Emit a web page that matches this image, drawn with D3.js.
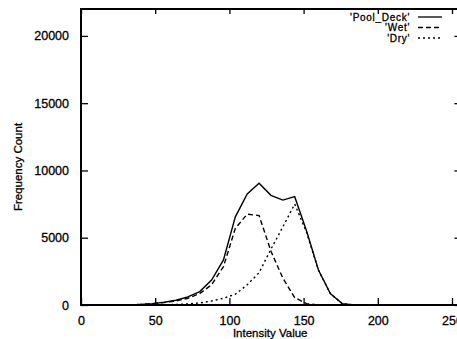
<!DOCTYPE html>
<html>
<head>
<meta charset="utf-8">
<script src="https://cdn.jsdelivr.net/npm/d3@7"></script>
<style>
  body { margin: 0; background: #fff; }
  svg { display: block; font-family: "Liberation Sans", Arial, sans-serif; }
  svg text { fill: #000; stroke: #000; stroke-width: 0.3px; }
</style>
</head>
<body>
<svg width="457" height="339"></svg>
<script>
    // histogram bins (intensity) and counts for each series
    const intensity = [0, 8, 16, 24, 32, 40, 48, 56, 64, 72, 80, 88, 96, 104, 112, 120, 128, 136, 144, 152, 160, 168, 176, 184, 192, 200, 208, 216, 224, 232, 240, 248, 255];
    const poolDeck  = [0, 0, 0, 5, 15, 40, 100, 200, 350, 600, 1000, 1850, 3350, 6550, 8250, 9050, 8150, 7800, 8050, 5500, 2600, 850, 100, 0, 0, 0, 0, 0, 0, 0, 0, 0, 0];
    const wet       = [0, 0, 0, 5, 15, 40, 90, 180, 300, 500, 850, 1500, 2850, 5700, 6750, 6650, 4000, 2000, 550, 100, 0, 0, 0, 0, 0, 0, 0, 0, 0, 0, 0, 0, 0];
    const dry       = [0, 0, 0, 0, 0, 0, 0, 10, 40, 80, 150, 300, 500, 800, 1500, 2400, 4150, 5800, 7500, 5400, 2600, 850, 100, 0, 0, 0, 0, 0, 0, 0, 0, 0, 0];

    const seriesNames = ["'Pool_Deck'", "'Wet'", "'Dry'"];
    const xTicks = [0, 50, 100, 150, 200, 250];
    const yTicks = [0, 5000, 10000, 15000, 20000];

    const svg = d3.select("svg");
    const margin = { top: 9, left: 81, bottom: 34 };
    const height = +svg.attr("height");

    const x = d3.scaleLinear()
      .domain([0, 255])
      .range([margin.left, margin.left + 255 * 1.484]);

    const y = d3.scaleLinear()
      .domain([0, 22000])
      .range([height - margin.bottom, margin.top]);

    const series = [poolDeck, wet, dry].map((vals, i) => ({
      name: seriesNames[i],
      dash: ["none", "5,3", "2,3"][i],
      points: intensity.map((v, j) => ({ x: v, y: vals[j] }))
    }));

    const line = d3.line()
      .x(d => x(d.x))
      .y(d => y(d.y));

    // curves
    svg.selectAll("path.curve")
      .data(series)
      .enter()
      .append("path")
      .attr("class", "curve")
      .attr("d", d => line(d.points))
      .attr("fill", "none")
      .attr("stroke", "#000")
      .attr("stroke-width", 1.4)
      .attr("stroke-dasharray", d => d.dash);

    // axes with inward ticks (gnuplot style), mirrored
    const x0 = x.range()[0], x1 = x.range()[1];
    const y0 = y.range()[0], y1 = y.range()[1];
    const fmt = d3.format("d");

    svg.append("g")
        .attr("class", "x-axis")
        .attr("transform", `translate(0,${y0})`)
        .call(d3.axisBottom(x).tickValues(xTicks).tickFormat(fmt).tickSizeInner(-7).tickSizeOuter(0).tickPadding(11));

    svg.append("g")
        .attr("class", "x-top")
        .attr("transform", `translate(0,${y1})`)
        .call(d3.axisTop(x).tickValues(xTicks).tickSizeInner(-5).tickSizeOuter(0).tickFormat(""));

    svg.append("g")
        .attr("class", "y-axis")
        .attr("transform", `translate(${x0},0)`)
        .call(d3.axisLeft(y).tickValues(yTicks).tickFormat(fmt).tickSizeInner(-7).tickSizeOuter(0).tickPadding(12));

    svg.append("g")
        .attr("class", "y-right")
        .attr("transform", `translate(${x1},0)`)
        .call(d3.axisRight(y).tickValues(yTicks).tickSizeInner(-5).tickSizeOuter(0).tickFormat(""));

    svg.selectAll(".domain").remove();
    svg.selectAll(".tick line")
        .attr("stroke", "#000")
        .attr("stroke-width", 1.3);
    svg.selectAll(".tick text")
        .attr("fill", "#000")
        .style("font-family", "'Liberation Sans', Arial, sans-serif")
        .style("font-size", "12.5px");

    // plot border
    svg.append("rect")
        .attr("x", x0)
        .attr("y", y1)
        .attr("width", x1 - x0)
        .attr("height", y0 - y1)
        .attr("fill", "none")
        .attr("stroke", "#000")
        .attr("stroke-width", 2);

    // axis labels
    svg.append("text")
        .attr("x", (x0 + x1) / 2)
        .attr("y", 337)
        .attr("text-anchor", "middle")
        .style("font-size", "11.5px")
        .text("Intensity Value");

    svg.append("text")
        .attr("transform", "translate(22,167) rotate(-90)")
        .attr("text-anchor", "middle")
        .style("font-size", "11.5px")
        .text("Frequency Count");

    // legend
    const legend = svg.selectAll("g.legend")
      .data(series)
      .enter()
      .append("g")
      .attr("class", "legend")
      .attr("transform", (d, i) => `translate(0,${17 + i * 10.5})`);

    legend.append("text")
        .attr("x", 410)
        .attr("y", 3.5)
        .attr("text-anchor", "end")
        .style("font-size", "10px")
        .style("letter-spacing", "0.7px")
        .text(d => d.name);

    legend.append("line")
        .attr("x1", 418)
        .attr("x2", 442)
        .attr("stroke", "#000")
        .attr("stroke-width", 1.3)
        .attr("stroke-dasharray", d => d.dash);
</script>
</body>
</html>
